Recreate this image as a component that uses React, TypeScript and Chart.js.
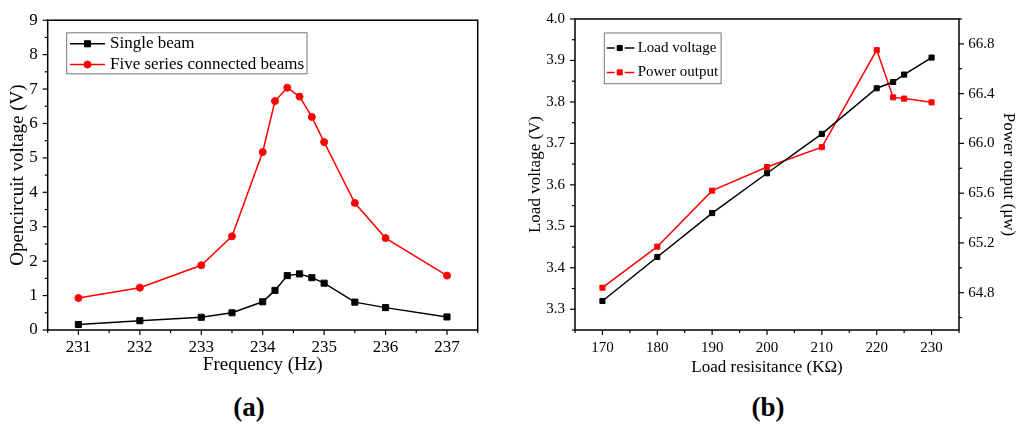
import { useEffect, useRef } from 'react';
import { Chart, registerables } from 'chart.js';

Chart.register(...registerables);

const SERIF = '"Liberation Serif", "Times New Roman", serif';

// (a) open circuit voltage against frequency
const freq = [231, 232, 233, 233.5, 234, 234.2, 234.4, 234.6, 234.8, 235, 235.5, 236, 237];
const singleBeam = [0.16, 0.27, 0.37, 0.5, 0.82, 1.15, 1.58, 1.63, 1.52, 1.36, 0.81, 0.65, 0.38];
const fiveBeams = [0.93, 1.23, 1.88, 2.72, 5.17, 6.65, 7.04, 6.78, 6.19, 5.46, 3.69, 2.67, 1.58];
const freqTicks = [231, 232, 233, 234, 235, 236, 237];
const openTicks = [0, 1, 2, 3, 4, 5, 6, 7, 8, 9];

// (b) load voltage and power against load resistance
const resistance = [170, 180, 190, 200, 210, 220, 223, 225, 230];
const loadVoltage = [3.32, 3.426, 3.532, 3.628, 3.723, 3.833, 3.848, 3.866, 3.907];
const powerOutput = [64.84, 65.17, 65.62, 65.81, 65.97, 66.75, 66.37, 66.36, 66.33];
const resTicks = [170, 180, 190, 200, 210, 220, 230];
const loadTicks = [3.3, 3.4, 3.5, 3.6, 3.7, 3.8, 3.9, 4.0];
const powerTicks = [64.8, 65.2, 65.6, 66.0, 66.4, 66.8];

// major ticks plus a minor tick half way, like the Origin plots
const withMinor = (major: number[], min: number, max: number) => {
  const half = (major[1] - major[0]) / 2;
  const all = [major[0] - half, ...major.flatMap((v) => [v, v + half])];
  return all
    .filter((v) => v >= min - 1e-9 && v <= max + 1e-9)
    .map((v) => ({ value: +v.toFixed(4) }));
};

const axis = (o: any) => ({
  type: 'linear',
  position: o.position,
  min: o.min,
  max: o.max,
  afterBuildTicks: (s: any) => {
    s.ticks = withMinor(o.major, o.min, o.max);
  },
  afterFit: (s: any) => {
    if (o.position === 'bottom') s.height = o.size;
    else s.width = o.size;
  },
  ticks: {
    autoSkip: false,
    maxRotation: 0,
    padding: o.pad,
    color: '#000',
    font: { family: SERIF, size: o.tickSize },
    callback: (v: number) =>
      o.major.some((m: number) => Math.abs(m - v) < 1e-6) ? v.toFixed(o.digits) : '',
  },
  grid: { display: false, drawTicks: false },
  border: { display: false },
  title: {
    display: true,
    text: o.title,
    color: '#000',
    font: { family: SERIF, size: o.titleSize },
    padding: o.titlePad,
  },
});

const frameTicks = {
  id: 'frameTicks',
  afterDraw(chart: any) {
    const { ctx, chartArea: a } = chart;
    ctx.save();
    ctx.strokeStyle = '#000';
    ctx.lineWidth = 1.5;
    ctx.strokeRect(a.left, a.top, a.right - a.left, a.bottom - a.top);
    ctx.lineWidth = 1.2;
    Object.values(chart.scales).forEach((s: any) => {
      s.ticks.forEach((t: any) => {
        const p = s.getPixelForValue(t.value);
        const len = t.label ? 5 : 3;
        ctx.beginPath();
        if (s.position === 'bottom') {
          ctx.moveTo(p, a.bottom);
          ctx.lineTo(p, a.bottom + len);
        } else if (s.position === 'left') {
          ctx.moveTo(a.left - len, p);
          ctx.lineTo(a.left, p);
        } else {
          ctx.moveTo(a.right, p);
          ctx.lineTo(a.right + len, p);
        }
        ctx.stroke();
      });
    });
    ctx.restore();
  },
};

const boxLegend = {
  id: 'boxLegend',
  afterDraw(chart: any, _args: any, o: any) {
    if (!o || !o.size) return;
    const { ctx, chartArea: a } = chart;
    const sets = chart.data.datasets;
    ctx.save();
    ctx.font = `${o.size}px ${SERIF}`;
    const tw = Math.max(...sets.map((d: any) => ctx.measureText(d.label).width));
    const x0 = a.left + o.x;
    const y0 = a.top + o.y;
    ctx.fillStyle = '#fff';
    ctx.fillRect(x0, y0, o.textX + tw + 3, o.h);
    ctx.strokeStyle = '#777';
    ctx.lineWidth = 1;
    ctx.strokeRect(x0, y0, o.textX + tw + 3, o.h);
    sets.forEach((d: any, i: number) => {
      const cy = y0 + o.first + i * o.row;
      const mx = x0 + o.mark;
      ctx.strokeStyle = d.borderColor;
      ctx.lineWidth = 1.5;
      ctx.beginPath();
      if (o.gap) {
        ctx.moveTo(x0 + o.line[0], cy);
        ctx.lineTo(mx - o.gap, cy);
        ctx.moveTo(mx + o.gap, cy);
        ctx.lineTo(x0 + o.line[1], cy);
      } else {
        ctx.moveTo(x0 + o.line[0], cy);
        ctx.lineTo(x0 + o.line[1], cy);
      }
      ctx.stroke();
      ctx.fillStyle = d.backgroundColor;
      ctx.beginPath();
      const r = d.pointRadius;
      if (d.pointStyle === 'circle') ctx.arc(mx, cy, r, 0, Math.PI * 2);
      else ctx.rect(mx - r * Math.SQRT1_2, cy - r * Math.SQRT1_2, r * Math.SQRT2, r * Math.SQRT2);
      ctx.fill();
      ctx.lineWidth = 1;
      ctx.stroke();
      ctx.fillStyle = '#000';
      ctx.textBaseline = 'middle';
      ctx.fillText(d.label, x0 + o.textX, cy);
    });
    ctx.restore();
  },
};

const series = (label: string, xs: number[], ys: number[], color: string, style: string, r: number, yAxisID = 'y') => ({
  label,
  data: xs.map((x, i) => ({ x, y: ys[i] })),
  yAxisID,
  borderColor: color,
  backgroundColor: color,
  borderWidth: 1.5,
  pointStyle: style,
  pointRadius: r,
  pointBorderWidth: 1,
  tension: 0,
});

const configA = () => ({
  type: 'line',
  data: {
    datasets: [
      series('Single beam', freq, singleBeam, '#000', 'rect', 4.3),
      series('Five series connected beams', freq, fiveBeams, '#ff0000', 'circle', 3.5),
    ],
  },
  options: {
    responsive: false,
    animation: false,
    layout: { padding: { top: 15.7, right: 22.3, left: 0, bottom: 0 } },
    scales: {
      x: axis({ position: 'bottom', min: 230.5, max: 237.5, major: freqTicks, digits: 0, size: 50, pad: 7.8,
        tickSize: 17, title: 'Frequency (Hz)', titleSize: 19, titlePad: { top: 0, bottom: 3.6 } }),
      y: axis({ position: 'left', min: 0, max: 9, major: openTicks, digits: 0, size: 47.7, pad: 10,
        tickSize: 17, title: 'Opencircuit voltage (V)', titleSize: 19, titlePad: { top: 7.1, bottom: 0 } }),
    },
    plugins: {
      legend: { display: false },
      tooltip: { enabled: false },
      boxLegend: { size: 17, x: 19, y: 12.6, h: 41, first: 11, row: 20.7, line: [3.3, 38.3], mark: 20.8, textX: 43.3 },
    },
  },
  plugins: [frameTicks, boxLegend],
});

const configB = () => ({
  type: 'line',
  data: {
    datasets: [
      series('Load voltage', resistance, loadVoltage, '#000', 'rect', 3.6),
      series('Power output', resistance, powerOutput, '#ff0000', 'rect', 3.6, 'y1'),
    ],
  },
  options: {
    responsive: false,
    animation: false,
    layout: { padding: { top: 18.3, right: 0, left: 0, bottom: 0 } },
    scales: {
      x: axis({ position: 'bottom', min: 165, max: 235, major: resTicks, digits: 0, size: 50, pad: 9.3,
        tickSize: 15, title: 'Load resisitance (KΩ)', titleSize: 17, titlePad: { top: 0, bottom: 1.8 } }),
      y: axis({ position: 'left', min: 3.25, max: 4.0, major: loadTicks, digits: 1, size: 65, pad: 10,
        tickSize: 15, title: 'Load voltage (V)', titleSize: 17, titlePad: { top: 15.3, bottom: 0 } }),
      y1: axis({ position: 'right', min: 64.5, max: 67.0, major: powerTicks, digits: 1, size: 65, pad: 9.3,
        tickSize: 15, title: 'Power ouput (μw)', titleSize: 17, titlePad: { top: 5.8, bottom: 0 } }),
    },
    plugins: {
      legend: { display: false },
      tooltip: { enabled: false },
      boxLegend: { size: 15, x: 29.3, y: 14, h: 50.7, first: 15, row: 24.4, line: [2.4, 30], mark: 15.4, gap: 5, textX: 33.4 },
    },
  },
  plugins: [frameTicks, boxLegend],
});

function Plot({ config, left, width }: { config: () => any; left: number; width: number }) {
  const ref = useRef<HTMLCanvasElement>(null);
  useEffect(() => {
    const chart = new Chart(ref.current as HTMLCanvasElement, config());
    return () => chart.destroy();
  }, [config]);
  return (
    <canvas
      ref={ref}
      width={width}
      height={380}
      style={{ position: 'absolute', left, top: 0, width, height: 380 }}
    />
  );
}

const panelLabel = (text: string, cx: number) => (
  <div
    style={{
      position: 'absolute',
      left: cx - 50,
      top: 392,
      width: 100,
      textAlign: 'center',
      font: `bold 27px ${SERIF}`,
      lineHeight: '30px',
      color: '#000',
    }}
  >
    {text}
  </div>
);

export default function App() {
  return (
    <div style={{ position: 'absolute', left: 0, top: 0, width: 1024, height: 430, background: '#fff' }}>
      <Plot config={configA} left={0} width={500} />
      <Plot config={configB} left={510} width={514} />
      {panelLabel('(a)', 249)}
      {panelLabel('(b)', 768)}
    </div>
  );
}
